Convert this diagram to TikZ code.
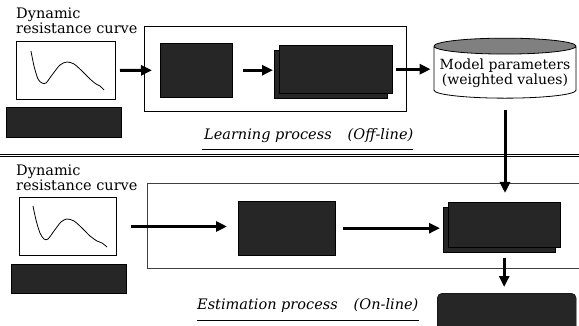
\documentclass[tikz,border=0pt]{standalone}
\usepackage{fontspec}
\setmainfont{DejaVu Serif}
\usetikzlibrary{positioning, shapes.geometric, arrows.meta, shadows, calc}

\tikzset{
  redact/.style={draw=black, fill=black!85, inner sep=0pt, anchor=north west},
  stacked/.style={redact, copy shadow={shadow xshift=-5pt, shadow yshift=-5pt, draw=black, fill=black!85}},
  curvebox/.style={draw, line width=1pt, inner sep=0pt, anchor=north west},
  flowarrow/.style={-{Triangle[length=11pt,width=10pt]}, line width=3pt},
  caption/.style={font=\fontsize{14.5}{13}\selectfont, align=left, inner sep=0pt, anchor=north west},
  proclabel/.style={font=\fontsize{14.5}{15}\selectfont\itshape, inner sep=0pt, anchor=base west},
}

\begin{document}
\begin{tikzpicture}[x=1pt, y=-1pt]
\useasboundingbox (0,0) rectangle (579,326);

% Learning process (off-line)
\node[caption] (capA) at (16,8) {Dynamic\\resistance curve};
\node[curvebox, minimum width=99pt, minimum height=58pt] (curveA) at (16,41) {};
\draw[thick] plot[smooth] coordinates {(31,51) (34,66) (38,79) (42,83) (46,83) (52,75) (60,65) (67,62) (74,64) (82,71) (90,79) (96,84) (100,86) (104,90)};
\node[redact, minimum width=115pt, minimum height=30pt] (noteA) at (6,107) {};

\node[draw, thick, minimum width=262pt, minimum height=85pt, anchor=north west] (frameA) at (144,26) {};
\node[redact, minimum width=72pt, minimum height=54pt] (featA) at (160,43) {};
\node[stacked, minimum width=113pt, minimum height=48pt] (modelA) at (279,45) {};

\node[cylinder, shape border rotate=90, aspect=0.12, draw, thick,
      minimum width=142pt, minimum height=60pt, inner sep=1pt,
      cylinder uses custom fill, cylinder end fill=black!50, cylinder body fill=white,
      align=center, font=\fontsize{14}{15}\selectfont] (paramDB) at (505,73)
      {Model parameters\\(weighted values)};

\draw[flowarrow, shorten <=4pt, shorten >=8pt] (curveA.east) -- (featA.west);
\draw[flowarrow, shorten <=11pt, shorten >=6pt] (featA.east) -- (featA.east -| modelA.west);
\draw[flowarrow, shorten <=4pt, shorten >=3pt] (modelA.east) -- (modelA.east -| paramDB.west);

\node[proclabel] (learnLbl) at (204,140) {Learning process\hspace{16pt}(Off-line)};
\draw[thick] ([xshift=-2pt, yshift=-9pt]learnLbl.base west) -- ([yshift=-9pt]learnLbl.base east);

% separator
\coordinate (sepL) at (0,155.5);
\coordinate (sepR) at (579,155.5);
\draw[double, double distance=1.2pt, line width=1pt] (sepL) -- (sepR);

% Estimation process (on-line)
\node[caption] (capB) at (16,165) {Dynamic\\resistance curve};
\node[curvebox, minimum width=97pt, minimum height=58pt] (curveB) at (19,197) {};
\draw[thick] plot[smooth] coordinates {(33,206) (36,220) (40,233) (44,239) (48,239) (54,231) (61,222) (67,219) (74,221) (82,228) (90,236) (97,241) (102,243) (107,247)};
\node[redact, minimum width=115pt, minimum height=29pt] (noteB) at (11,264) {};

\draw[thick, black!75] (579,183) -| (147,268) -- (579,268);
\node[redact, minimum width=97pt, minimum height=54pt] (featB) at (238,201) {};
\node[stacked, minimum width=112pt, minimum height=45pt] (estB) at (448,202) {};
\node[redact, rounded corners=5pt, minimum width=139pt, minimum height=40pt] (resultB) at (437,293) {};

\draw[flowarrow, shorten <=14pt, shorten >=11pt] (curveB.east) -- (curveB.east -| featB.west);
\draw[flowarrow, shorten <=8pt, shorten >=8pt] (featB.east) -- (featB.east -| estB.west);
\draw[flowarrow, shorten <=11pt, shorten >=9pt] (paramDB.south) -- (paramDB.south |- estB.north);
\draw[flowarrow, shorten <=11pt, shorten >=6pt] (estB.south) -- (estB.south |- resultB.north);

\node[proclabel] (estLbl) at (197,309) {Estimation process\hspace{16pt}(On-line)};
\draw[thick] ([yshift=-11pt]estLbl.base west) -- ([yshift=-11pt]estLbl.base east);
\end{tikzpicture}
\end{document}
